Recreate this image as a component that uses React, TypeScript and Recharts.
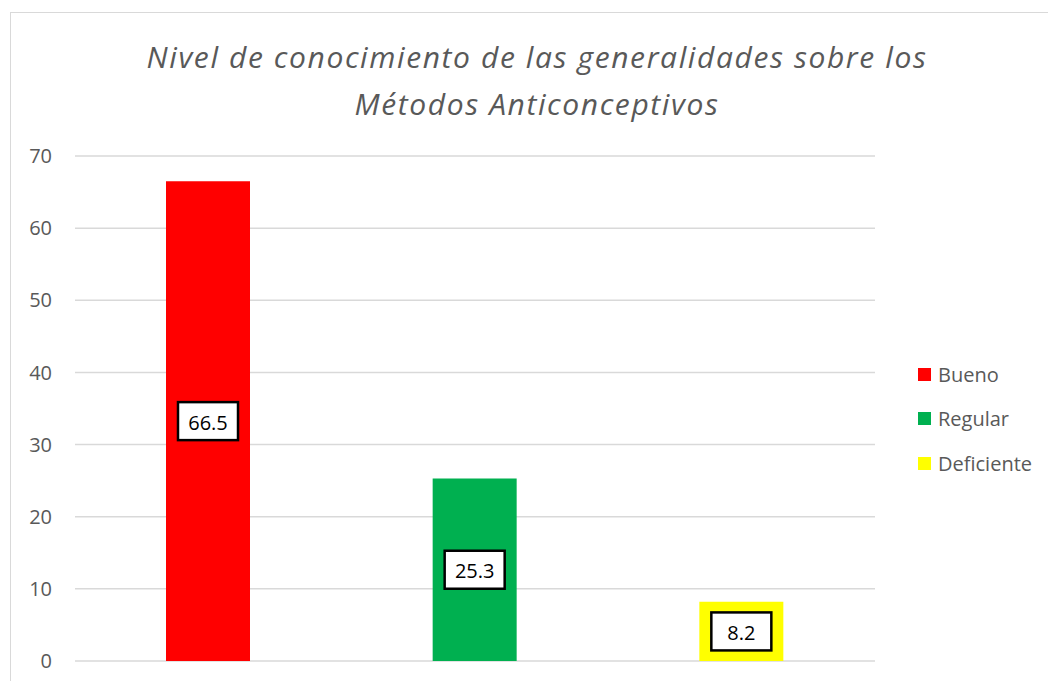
import { Bar, BarChart, CartesianGrid, Cell, LabelList, XAxis, YAxis } from "recharts";

const categorias = ["Bueno", "Regular", "Deficiente"];
const valores = [66.5, 25.3, 8.2];
const colores = ["#FF0000", "#00B050", "#FFFF00"];
const ticksY = [0, 10, 20, 30, 40, 50, 60, 70];
const tituloLineas = [
  "Nivel de conocimiento de las generalidades sobre los",
  "Métodos Anticonceptivos",
];

const fuente = "'Open Sans', 'Liberation Sans', sans-serif";

const datos = categorias.map((nombre, i) => ({ nombre, valor: valores[i] }));

/** Etiqueta con caja blanca y borde negro, centrada en la barra. */
function EtiquetaCaja(props: any) {
  const { x, y, width, height, value } = props;
  const cx = Number(x) + Number(width) / 2;
  const cy = Number(y) + Number(height) / 2;
  const w = 60;
  const h = 38;
  return (
    <g>
      <rect x={cx - w / 2} y={cy - h / 2} width={w} height={h} fill="#ffffff" stroke="#000000" strokeWidth={2.5} />
      <text
        x={cx}
        y={cy + 1}
        textAnchor="middle"
        dominantBaseline="central"
        fontFamily={fuente}
        fontSize={20}
        fill="#000000"
      >
        {value}
      </text>
    </g>
  );
}

export default function App() {
  return (
    <div
      style={{
        position: "absolute",
        left: 10,
        top: 12,
        width: 1100,
        height: 700,
        border: "1px solid #d9d9d9",
        background: "#ffffff",
        fontFamily: fuente,
      }}
    >
      <div
        style={{
          position: "absolute",
          left: 0,
          top: 20,
          width: 1052,
          textAlign: "center",
          fontStyle: "italic",
          fontWeight: 400,
          fontSize: 30,
          letterSpacing: "1.6px",
          lineHeight: "47px",
          color: "#595959",
        }}
      >
        {tituloLineas.map((l) => (
          <div key={l}>{l}</div>
        ))}
      </div>

      <div style={{ position: "absolute", left: 0, top: 0 }}>
        <BarChart
          width={1040}
          height={668}
          data={datos}
          margin={{ top: 143, right: 176, left: 0, bottom: 20 }}
        >
          <CartesianGrid vertical={false} stroke="#d9d9d9" strokeWidth={1.5} />
          <XAxis dataKey="nombre" hide />
          <YAxis
            width={64}
            domain={[0, 70]}
            ticks={ticksY}
            axisLine={false}
            tickLine={false}
            tickSize={0}
            tickMargin={23}
            tick={{ fill: "#595959", fontSize: 20, fontFamily: fuente }}
          />
          <Bar dataKey="valor" barSize={84} isAnimationActive={false}>
            {datos.map((d, i) => (
              <Cell key={d.nombre} fill={colores[i]} />
            ))}
            <LabelList dataKey="valor" content={EtiquetaCaja} />
          </Bar>
        </BarChart>
      </div>

      <div style={{ position: "absolute", left: 907, top: 339 }}>
        {categorias.map((nombre, i) => (
          <div
            key={nombre}
            style={{ display: "flex", alignItems: "center", height: 44.6, color: "#595959", fontSize: 20 }}
          >
            <span style={{ width: 13, height: 13, background: colores[i], marginRight: 7, display: "inline-block" }} />
            {nombre}
          </div>
        ))}
      </div>
    </div>
  );
}
